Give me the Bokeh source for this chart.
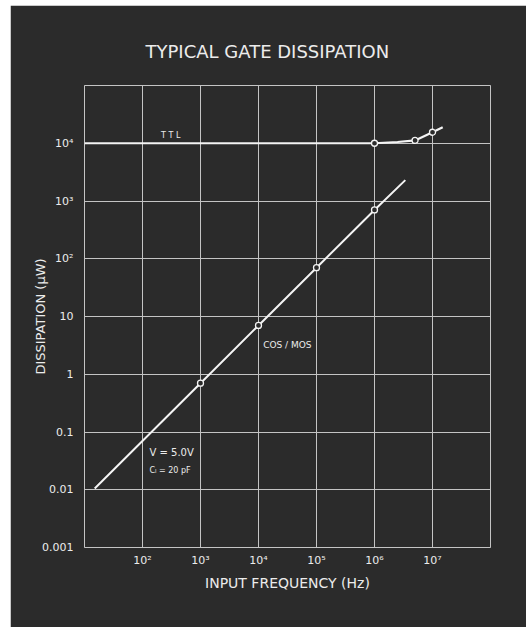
from bokeh.plotting import figure
from bokeh.models import Range1d, FixedTicker, CustomJSTickFormatter
from bokeh.core.properties import value
from bokeh.embed import file_html
from bokeh.resources import INLINE

# ---- data ----
ttl_freq = [10, 1e6, 2.5e6, 5e6, 1e7, 1.5e7]
ttl_power = [1e4, 1e4, 1.05e4, 1.12e4, 1.55e4, 1.9e4]
ttl_mark_freq = [1e6, 5e6, 1e7]
ttl_mark_power = [1e4, 1.12e4, 1.55e4]

cmos_freq = [15, 1e3, 1e4, 1e5, 1e6, 3.4e6]
cmos_power = [0.0105, 0.7, 7, 70, 700, 2300]
cmos_mark_freq = [1e3, 1e4, 1e5, 1e6]
cmos_mark_power = [0.7, 7, 70, 700]

x_tick_exps = [2, 3, 4, 5, 6, 7]
x_tick_labels = ["10\u00b2", "10\u00b3", "10\u2074", "10\u2075", "10\u2076", "10\u2077"]
y_tick_exps = [-3, -2, -1, 0, 1, 2, 3, 4]
y_tick_labels = ["0.001", "0.01", "0.1", "1", "10", "10\u00b2", "10\u00b3", "10\u2074"]
grid_x_exps = [1, 2, 3, 4, 5, 6, 7, 8]
grid_y_exps = [-3, -2, -1, 0, 1, 2, 3, 4, 5]

BG = "#2b2b2b"
FG = "#ececec"
GRID = "#c4c4c4"
FONT = "DejaVu Sans"

p = figure(width=516, height=622, x_axis_type="log", y_axis_type="log",
           x_range=Range1d(10, 1e8), y_range=Range1d(1e-3, 1e5),
           output_backend="svg", toolbar_location=None,
           min_border_left=74, min_border_right=36, min_border_top=80, min_border_bottom=80)
p.margin = (5, 0, 0, 10)

p.background_fill_color = BG
p.border_fill_color = BG
p.outline_line_color = GRID
p.outline_line_width = 1

p.title.text = "TYPICAL GATE DISSIPATION"
p.title.align = "left"
p.title.offset = 61
p.title.standoff = 47
p.title.text_font = FONT
p.title.text_font_size = "18px"
p.title.text_font_style = "normal"
p.title.text_color = FG

for ax, exps, labels in ((p.xaxis[0], x_tick_exps, x_tick_labels), (p.yaxis[0], y_tick_exps, y_tick_labels)):
    ax.ticker = FixedTicker(ticks=[10.0 ** e for e in exps])
    ax.formatter = CustomJSTickFormatter(args=dict(exps=exps, labels=labels), code="""
        const e = Math.round(Math.log10(tick));
        const k = exps.indexOf(e);
        return k >= 0 ? labels[k] : "";
    """)
    ax.axis_line_color = None
    ax.major_tick_line_color = None
    ax.minor_tick_line_color = None
    ax.major_tick_out = 0
    ax.major_tick_in = 0
    ax.major_label_text_color = FG
    ax.major_label_text_font = FONT
    ax.major_label_text_font_size = "11px"
    ax.axis_label_text_color = FG
    ax.axis_label_text_font = FONT
    ax.axis_label_text_font_style = "normal"

p.xaxis.axis_label = "INPUT FREQUENCY (Hz)"
p.xaxis.axis_label_text_font_size = "14px"
p.xaxis.major_label_standoff = 6
p.xaxis.axis_label_standoff = 5
p.yaxis.axis_label = "DISSIPATION (\u03bcW)"
p.yaxis.axis_label_text_font_size = "13px"
p.yaxis.major_label_standoff = 11
p.yaxis.axis_label_standoff = -9

p.xgrid.ticker = FixedTicker(ticks=[10.0 ** e for e in grid_x_exps])
p.ygrid.ticker = FixedTicker(ticks=[10.0 ** e for e in grid_y_exps])
for g in (p.xgrid[0], p.ygrid[0]):
    g.grid_line_color = GRID
    g.grid_line_width = 1
    g.grid_line_alpha = 1.0

# curves
p.line(ttl_freq, ttl_power, line_color="#f4f4f4", line_width=2.2)
p.line(cmos_freq, cmos_power, line_color="#f4f4f4", line_width=2)
p.scatter(ttl_mark_freq, ttl_mark_power, size=6, marker="circle",
          fill_color=BG, line_color="#f4f4f4", line_width=1.3)
p.scatter(cmos_mark_freq, cmos_mark_power, size=6, marker="circle",
          fill_color=BG, line_color="#f4f4f4", line_width=1.3)

# annotations
def note(x, y, t, size):
    p.text(x=[x], y=[y], text=[t], text_color=FG, text_font=value(FONT),
           text_font_size=size, text_align="left", text_baseline="middle")

note(10 ** 2.32, 10 ** 4.13, "T T L", "8px")
note(10 ** 4.08, 10 ** 0.51, "COS / MOS", "9px")
note(10 ** 2.12, 10 ** -1.36, "V = 5.0V", "10px")
note(10 ** 2.12, 10 ** -1.67, "C\u2097 = 20 pF", "8px")

open("out.html", "w").write(file_html(p, INLINE))
